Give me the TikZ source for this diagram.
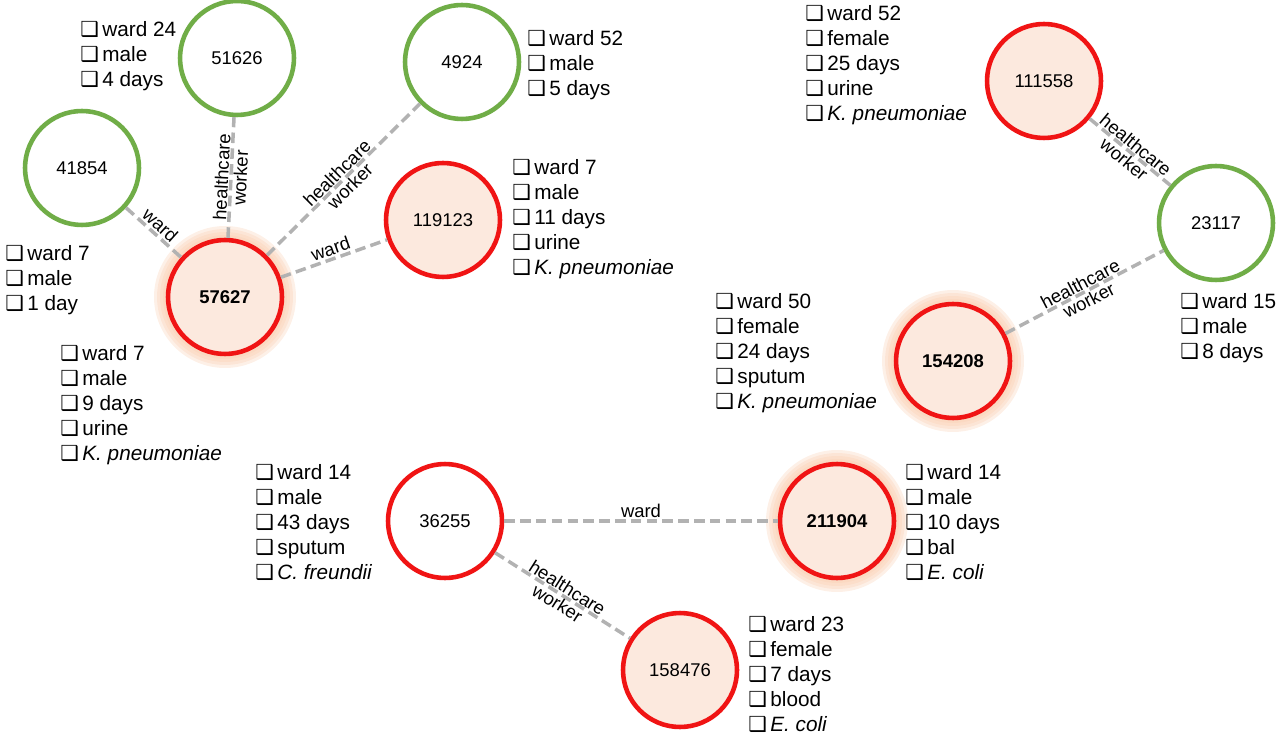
\documentclass[tikz,border=0pt]{standalone}
\usepackage{fontspec}
\setmainfont{Liberation Sans}
\newfontfamily\sym{DejaVu Sans}
\usetikzlibrary{arrows.meta}
\definecolor{pgreen}{RGB}{112,173,71}
\definecolor{pred}{RGB}{240,20,20}
\definecolor{peach}{RGB}{252,233,222}
\definecolor{glow}{RGB}{250,205,175}
\newcommand{\cb}{{\sym\char"2751}\,}
\tikzset{
  iso/.style={circle,line width=2.6pt,minimum size=2.28cm,inner sep=0pt,font=\fontsize{10.5}{12}\selectfont},
  safe/.style={iso,draw=pgreen,fill=white},
  case/.style={iso,draw=pred,fill=peach},
  info/.style={anchor=north west,align=left,inner sep=0pt,font=\fontsize{11.8}{14.3}\selectfont},
  link/.style={draw=black!30,line width=2pt,dash pattern=on 6pt off 3pt},
  why/.style={midway,sloped,font=\fontsize{10.5}{10.5}\selectfont,align=center,inner sep=1pt}
}
\newcommand{\glow}[1]{%
  \foreach \g in {1.42,1.36,1.30,1.24,1.18}{\fill[glow,opacity=0.3] (#1) circle (\g cm);}}
\begin{document}
\begin{tikzpicture}[x=0.02cm,y=-0.02cm]
\useasboundingbox (0,0) rectangle (1280,739);
\glow{225,297}
\glow{953,361}
\glow{837,521}
\begin{scope}
    \node[safe] (n51626) at (237,58) {51626};
    \node[safe] (n4924) at (462,62) {4924};
    \node[safe] (n41854) at (82,168) {41854};
    \node[case] (n119123) at (443,220) {119123};
    \node[case] (n57627) at (225,297) {\textbf{57627}};
    \node[case] (n111558) at (1044,81) {111558};
    \node[safe] (n23117) at (1216,223) {23117};
    \node[case] (n154208) at (953,361) {\textbf{154208}};
    \node[case,fill=white] (n36255) at (445,521) {36255};
    \node[case] (n211904) at (837,521) {\textbf{211904}};
    \node[case] (n158476) at (680,670) {158476};
\end{scope}

\begin{scope}
    \path[link] (n41854) -- node[why,above] {ward} (n57627);
    \path[link] (n57627) -- node[why] {healthcare\\worker} (n51626);
    \path[link] (n57627) -- node[why] {healthcare\\worker} (n4924);
    \path[link] (n57627) -- node[why,above] {ward} (n119123);
    \path[link] (n111558) -- node[why] {healthcare\\worker} (n23117);
    \path[link] (n154208) -- node[why] {healthcare\\worker} (n23117);
    \path[link] (n36255) -- node[why,above] {ward} (n211904);
    \path[link] (n36255) -- node[why] {healthcare\\worker} (n158476);
\end{scope}

% patient records
\node[info] (i51626) at (80,21) {\cb ward 24\\\cb male\\\cb 4 days};
\node[info] (i4924) at (527,30) {\cb ward 52\\\cb male\\\cb 5 days};
\node[info] (i41854) at (5,245) {\cb ward 7\\\cb male\\\cb 1 day};
\node[info] (i57627) at (60,345) {\cb ward 7\\\cb male\\\cb 9 days\\\cb urine\\\cb \textit{K. pneumoniae}};
\node[info] (i119123) at (512,159) {\cb ward 7\\\cb male\\\cb 11 days\\\cb urine\\\cb \textit{K. pneumoniae}};
\node[info] (i111558) at (805,5) {\cb ward 52\\\cb female\\\cb 25 days\\\cb urine\\\cb \textit{K. pneumoniae}};
\node[info] (i23117) at (1180,293) {\cb ward 15\\\cb male\\\cb 8 days};
\node[info] (i154208) at (715,293) {\cb ward 50\\\cb female\\\cb 24 days\\\cb sputum\\\cb \textit{K. pneumoniae}};
\node[info] (i36255) at (255,464) {\cb ward 14\\\cb male\\\cb 43 days\\\cb sputum\\\cb \textit{C. freundii}};
\node[info] (i211904) at (905,464) {\cb ward 14\\\cb male\\\cb 10 days\\\cb bal\\\cb \textit{E. coli}};
\node[info] (i158476) at (748,616) {\cb ward 23\\\cb female\\\cb 7 days\\\cb blood\\\cb \textit{E. coli}};
\end{tikzpicture}
\end{document}
